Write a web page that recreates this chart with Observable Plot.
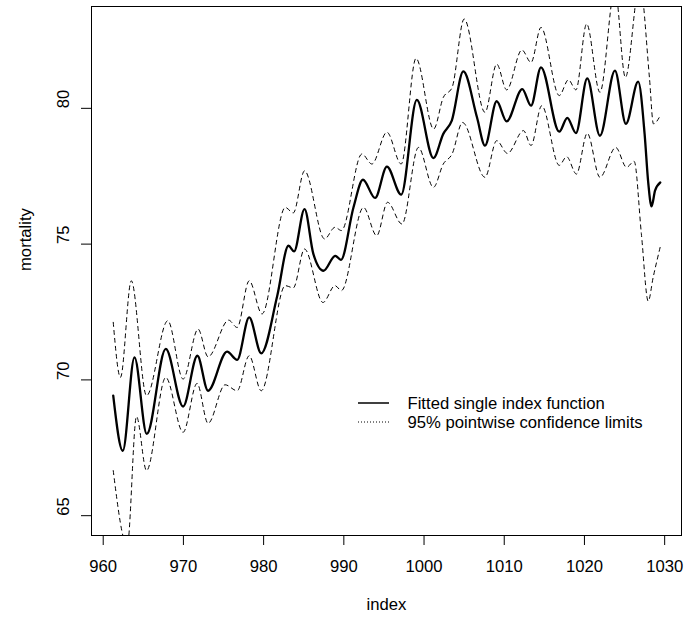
<!DOCTYPE html>
<html>
<head>
<meta charset="utf-8">
<script src="https://cdn.jsdelivr.net/npm/d3@7"></script>
<script src="https://cdn.jsdelivr.net/npm/@observablehq/plot@0.6"></script>
<style>
  body { margin: 0; background: #fff; }
  #chart svg { display: block; }
</style>
</head>
<body>
<div id="chart"></div>
<script>
// Fitted single index function
const fitIndex = [961.25, 962.44, 963.9, 965.43, 967.8, 969.96, 971.74, 973.07, 975.44, 976.7, 978.2, 979.7,
  981.7, 983.1, 983.8, 985.1, 986.2, 987.47, 988.93, 989.64, 991.2, 992.38, 993.9, 995.37, 997.15, 999.1,
  1001.17, 1002.4, 1003.46, 1004.9, 1006.6, 1007.6, 1009.06, 1010.3, 1012.25, 1013.34, 1014.58, 1016.86,
  1017.86, 1018.94, 1020.35, 1021.93, 1023.8, 1025.17, 1026.7, 1027.5, 1027.95, 1028.37, 1028.8, 1029.45];
const fitValue = [69.42, 67.39, 70.83, 68.01, 71.14, 69.02, 70.89, 69.6, 71.04, 70.74, 72.3, 70.98,
  73.1, 74.94, 74.73, 76.29, 74.64, 74.02, 74.57, 74.42, 76.35, 77.37, 76.7, 77.85, 76.82, 80.31,
  78.17, 79.06, 79.55, 81.36, 79.67, 78.63, 80.26, 79.52, 80.71, 80.1, 81.51, 79.14,
  79.65, 79.09, 81.1, 78.99, 81.39, 79.43, 80.98, 79.06, 77.27, 76.39, 76.97, 77.27];

// Upper 95% pointwise confidence limit
const upperIndex = [961.25, 962.15, 963.5, 965.4, 968.05, 969.96, 971.83, 973.07, 975.64, 976.7, 978.2, 979.8,
  982.7, 983.7, 985.1, 987.6, 988.9, 989.7, 992.25, 993.5, 995.37, 997.15, 999.0, 1001.2, 1002.4, 1003.5,
  1005.0, 1007.6, 1009.06, 1010.3, 1012.2, 1013.34, 1014.58, 1016.86, 1018.0, 1018.94, 1020.27, 1021.93,
  1023.8, 1025.1, 1026.9, 1028.1, 1028.6, 1029.45];
const upperValue = [72.12, 70.09, 73.65, 69.42, 72.18, 70.03, 71.87, 70.85, 72.2, 71.93, 73.65, 72.43,
  76.35, 76.15, 77.7, 75.19, 75.62, 75.5, 78.32, 77.95, 79.12, 77.95, 81.84, 79.24, 80.4, 80.77,
  83.29, 79.85, 81.63, 80.68, 82.15, 81.69, 82.98, 80.47, 81.05, 80.68, 83.11, 80.59,
  84.4, 81.14, 84.6, 81.14, 79.43, 79.73];

// Lower 95% pointwise confidence limit
const lowerIndex = [961.25, 963.0, 964.15, 965.4, 967.8, 969.96, 971.7, 973.07, 975.2, 976.7, 978.2, 979.7,
  982.7, 983.7, 985.1, 987.4, 988.9, 989.7, 992.45, 994.1, 995.45, 997.25, 999.3, 1001.17, 1002.4, 1003.5,
  1004.8, 1007.6, 1009.06, 1010.4, 1012.4, 1013.34, 1014.67, 1016.86, 1017.78, 1019.0, 1020.35, 1021.93,
  1023.9, 1025.25, 1026.2, 1027.1, 1027.95, 1028.57, 1029.45];
const lowerValue = [66.66, 63.9, 68.65, 66.66, 70.09, 68.07, 69.87, 68.4, 69.82, 69.6, 70.89, 69.6,
  73.47, 73.39, 74.82, 72.85, 73.47, 73.29, 76.35, 75.31, 76.54, 75.74, 78.56, 77.09, 77.95, 78.32,
  79.48, 77.46, 78.81, 78.34, 79.18, 78.63, 80.1, 77.9, 78.22, 77.58, 79.08, 77.46,
  78.56, 77.83, 78.05, 75.37, 72.9, 73.78, 74.9];

// Axes
const xTicks = [960, 970, 980, 990, 1000, 1010, 1020, 1030];
const yTicks = [65, 70, 75, 80];
const xDomain = [958.54, 1032.1];
const yDomain = [64.27, 83.75];

// Legend entries
const legendLabels = ["Fitted single index function", "95% pointwise confidence limits"];

const fit = fitIndex.map((x, i) => ({x, y: fitValue[i]}));
const upper = upperIndex.map((x, i) => ({x, y: upperValue[i]}));
const lower = lowerIndex.map((x, i) => ({x, y: lowerValue[i]}));

const W = 687, H = 619;
const mL = 91, mR = 6, mT = 6, mB = 84;
const fs = 16.67;
const font = "'Liberation Sans', Arial, Helvetica, sans-serif";

// Legend layout, in pixels from the top-left corner of the plotting frame
const legendTextDx = 316;
const legendRowDy = [397, 416];
const legendKeyX = [267, 298];

const plot = Plot.plot({
  width: W,
  height: H,
  marginLeft: mL,
  marginRight: mR,
  marginTop: mT,
  marginBottom: mB,
  style: {fontFamily: font, fontSize: fs + "px", color: "black", background: "white"},
  x: {domain: xDomain},
  y: {domain: yDomain},
  marks: [
    Plot.line(upper, {x: "x", y: "y", curve: "monotone-x", stroke: "black", strokeWidth: 1, strokeDasharray: "4,4", clip: true}),
    Plot.line(lower, {x: "x", y: "y", curve: "monotone-x", stroke: "black", strokeWidth: 1, strokeDasharray: "4,4", clip: true}),
    Plot.line(fit, {x: "x", y: "y", curve: "monotone-x", stroke: "black", strokeWidth: 2.3, clip: true}),
    Plot.frame({stroke: "black", strokeWidth: 1}),
    Plot.axisX({ticks: xTicks, tickSize: 10, tickPadding: 15, fontSize: fs, tickFormat: d => String(d), label: null}),
    Plot.axisY({ticks: yTicks, tickSize: 10, tickFormat: () => "", label: null}),
    Plot.text(yTicks, {y: d => d, text: d => String(d), frameAnchor: "left", dx: -28, rotate: -90, fontSize: fs}),
    Plot.text(["index"], {text: d => d, frameAnchor: "bottom", dy: 74, fontSize: fs}),
    Plot.text(["mortality"], {text: d => d, frameAnchor: "left", dx: -66, rotate: -90, fontSize: fs}),
    ...legendLabels.map((label, i) =>
      Plot.text([label], {text: d => d, frameAnchor: "top-left", textAnchor: "start", lineAnchor: "middle",
        dx: legendTextDx, dy: legendRowDy[i], fontSize: fs}))
  ]
});

document.getElementById("chart").appendChild(plot);

// Legend key samples: a solid line and a dotted line
const keys = d3.select(plot).append("g").attr("stroke", "black")
  .attr("transform", `translate(${mL},${mT})`);
keys.append("line")
  .attr("x1", legendKeyX[0]).attr("x2", legendKeyX[1])
  .attr("y1", legendRowDy[0]).attr("y2", legendRowDy[0])
  .attr("stroke-width", 1.5);
keys.append("line")
  .attr("x1", legendKeyX[0]).attr("x2", legendKeyX[1])
  .attr("y1", legendRowDy[1]).attr("y2", legendRowDy[1])
  .attr("stroke-width", 1).attr("stroke-dasharray", "1,2");
</script>
</body>
</html>
